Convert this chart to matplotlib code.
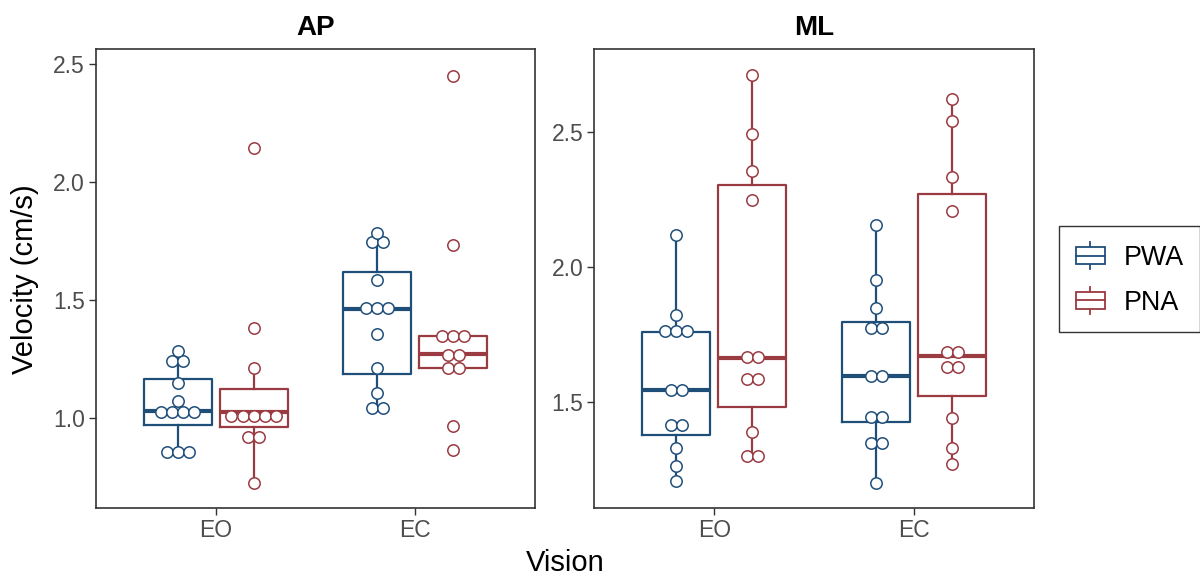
import matplotlib
matplotlib.use("Agg")
import matplotlib.pyplot as plt
from matplotlib.patches import Patch, Rectangle
from matplotlib.lines import Line2D
from matplotlib.legend_handler import HandlerBase

plt.rcParams['font.family'] = ['Liberation Sans', 'DejaVu Sans']

vision = ['EO', 'EC']
groups = ['PWA', 'PNA']
colors = {'PWA': '#1f4e79', 'PNA': '#9a3a41'}

# dot values (bin centres)
ap_eo_pwa = [1.284, 1.243, 1.243, 1.147, 1.072, 1.027, 1.027, 1.027, 1.027, 0.855, 0.855, 0.855]
ap_eo_pna = [2.145, 1.379, 1.213, 1.008, 1.008, 1.008, 1.008, 1.008, 0.921, 0.921, 0.723]
ap_ec_pwa = [1.783, 1.745, 1.745, 1.585, 1.466, 1.466, 1.466, 1.357, 1.210, 1.105, 1.041, 1.041]
ap_ec_pna = [2.450, 1.734, 1.346, 1.346, 1.346, 1.267, 1.267, 1.210, 1.210, 0.966, 0.863]
ml_eo_pwa = [2.120, 1.821, 1.765, 1.765, 1.765, 1.546, 1.546, 1.415, 1.415, 1.331, 1.265, 1.209]
ml_eo_pna = [2.710, 2.491, 2.356, 2.249, 1.667, 1.667, 1.585, 1.585, 1.391, 1.302, 1.302]
ml_ec_pwa = [2.157, 1.953, 1.848, 1.773, 1.773, 1.597, 1.597, 1.446, 1.446, 1.347, 1.347, 1.200]
ml_ec_pna = [2.623, 2.541, 2.332, 2.206, 1.687, 1.687, 1.631, 1.631, 1.442, 1.330, 1.272]

# box stats: whisker low, q1, median, q3, whisker high
ap_eo_pwa_box = [0.855, 0.970, 1.031, 1.165, 1.284]
ap_eo_pna_box = [0.723, 0.960, 1.027, 1.124, 1.213]
ap_ec_pwa_box = [1.041, 1.185, 1.462, 1.617, 1.783]
ap_ec_pna_box = [1.210, 1.210, 1.271, 1.347, 1.347]
ml_eo_pwa_box = [1.209, 1.380, 1.546, 1.760, 2.120]
ml_eo_pna_box = [1.302, 1.481, 1.663, 2.302, 2.710]
ml_ec_pwa_box = [1.200, 1.426, 1.597, 1.797, 2.157]
ml_ec_pna_box = [1.272, 1.523, 1.671, 2.269, 2.623]

panels = [
    ('AP', [[ap_eo_pwa, ap_eo_pna], [ap_ec_pwa, ap_ec_pna]],
     [[ap_eo_pwa_box, ap_eo_pna_box], [ap_ec_pwa_box, ap_ec_pna_box]],
     (0.617, 2.562), [1.0, 1.5, 2.0, 2.5]),
    ('ML', [[ml_eo_pwa, ml_eo_pna], [ml_ec_pwa, ml_ec_pna]],
     [[ml_eo_pwa_box, ml_eo_pna_box], [ml_ec_pwa_box, ml_ec_pna_box]],
     (1.107, 2.806), [1.5, 2.0, 2.5]),
]

dodge = 0.19
box_w = 0.342
dot_step = 0.0556

fig = plt.figure(figsize=(12, 5.77), dpi=100)
axes = [fig.add_axes([0.080, 0.1191, 0.3658, 0.7955]),
        fig.add_axes([0.4953, 0.1191, 0.3664, 0.7955])]

for ax, (name, pts, boxes, ylim, yticks) in zip(axes, panels):
    for i, v in enumerate(vision):
        for j, g in enumerate(groups):
            pos = i + 1 + (-dodge if j == 0 else dodge)
            lo, q1, med, q3, hi = boxes[i][j]
            c = colors[g]
            ax.bxp([dict(whislo=lo, q1=q1, med=med, q3=q3, whishi=hi, fliers=[])],
                   positions=[pos], widths=box_w, showfliers=False, showcaps=False,
                   boxprops=dict(color=c, linewidth=1.6),
                   whiskerprops=dict(color=c, linewidth=1.6),
                   medianprops=dict(color=c, linewidth=3.0, solid_capstyle='butt'),
                   manage_ticks=False)
            # stack equal values side by side like a centred dotplot
            vals = pts[i][j]
            for y in sorted(set(vals)):
                k = vals.count(y)
                xs = [pos + (n - (k - 1) / 2) * dot_step for n in range(k)]
                ax.plot(xs, [y] * k, linestyle='none', marker='o', markersize=8.2,
                        markerfacecolor='white', markeredgecolor=c,
                        markeredgewidth=1.1, zorder=5, clip_on=False)
    ax.set_xlim(0.4, 2.6)
    ax.set_ylim(*ylim)
    ax.set_xticks([1, 2])
    ax.set_xticklabels(vision)
    ax.set_yticks(yticks)
    ax.set_yticklabels(['%.1f' % t for t in yticks])
    ax.tick_params(labelsize=16.5, labelcolor='#4d4d4d', color='#333333',
                   length=5, width=1.0, pad=3)
    for s in ax.spines.values():
        s.set_color('#333333')
        s.set_linewidth(1.2)
    ax.set_title(name, fontsize=20, fontweight='bold', pad=10)

fig.text(0.021, 0.517, 'Velocity (cm/s)', rotation=90, ha='center', va='center', fontsize=21)
fig.text(0.471, 0.024, 'Vision', ha='center', va='center', fontsize=21)


class BoxHandler(HandlerBase):
    def create_artists(self, legend, orig_handle, xdescent, ydescent, width, height, fontsize, trans):
        c = orig_handle.get_edgecolor()
        x0, y0 = -xdescent, -ydescent
        bh = height * 0.62
        by = y0 + (height - bh) / 2
        rect = Rectangle((x0, by), width, bh, facecolor='white', edgecolor=c, linewidth=1.3, transform=trans)
        xm = x0 + width / 2
        mid = Line2D([x0, x0 + width], [y0 + height / 2] * 2, color=c, linewidth=1.3, transform=trans)
        w1 = Line2D([xm, xm], [y0, by], color=c, linewidth=1.3, transform=trans)
        w2 = Line2D([xm, xm], [by + bh, y0 + height], color=c, linewidth=1.3, transform=trans)
        return [w1, w2, rect, mid]


handles = [Patch(edgecolor=colors[g], facecolor='white') for g in groups]
leg = fig.legend(handles, groups, loc='center left', bbox_to_anchor=(1059 / 1200, 1 - 279 / 577),
                 handler_map={Patch: BoxHandler()}, fontsize=19.4, frameon=True, fancybox=False,
                 edgecolor='black', handlelength=1.07, handleheight=1.15, labelspacing=0.6,
                 handletextpad=0.7, borderpad=0.62, borderaxespad=0)
leg.get_frame().set_linewidth(1.0)

fig.savefig('out.png', dpi=100, facecolor='white')
